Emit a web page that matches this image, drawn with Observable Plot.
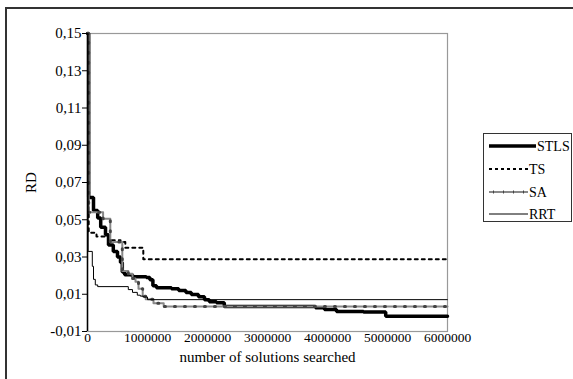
<!DOCTYPE html>
<html><head><meta charset="utf-8">
<script src="https://cdn.jsdelivr.net/npm/d3@7"></script>
<script src="https://cdn.jsdelivr.net/npm/@observablehq/plot@0.6"></script>
<style>
body{margin:0;overflow:hidden;background:#fff;font-family:"Liberation Serif","Times New Roman",serif;}
#wrap{position:relative;width:573px;height:379px;overflow:hidden;}
#frame{position:absolute;left:5px;top:7px;width:700px;height:500px;border:2px solid #333;box-sizing:border-box;}
#chart{position:absolute;left:0;top:0;}
#legend{position:absolute;left:483px;top:133px;width:89px;height:89px;border:1px solid #333;box-sizing:border-box;background:#fff;}
#legend svg{display:block;position:absolute;left:0;top:0;}
</style></head><body>
<div id="wrap"><div id="frame"></div><div id="chart"></div><div id="legend"></div></div>
<script>
const xTicks = [0, 1000000, 2000000, 3000000, 4000000, 5000000, 6000000];
const yTicks = [-0.01, 0.01, 0.03, 0.05, 0.07, 0.09, 0.11, 0.13, 0.15];
const seriesNames = ["STLS", "TS", "SA", "RRT"];

const stlsX = [0, 20000, 100000, 170000, 220000, 300000, 350000, 430000, 500000, 550000, 580000, 620000, 750000, 980000, 1040000, 1090000, 1150000, 1400000, 1520000, 1640000, 1730000, 1850000, 1950000, 2030000, 2150000, 2280000, 3800000, 3950000, 4150000, 4600000, 4970000, 6000000];
const stlsY = [0.15, 0.062, 0.055, 0.051, 0.046, 0.042, 0.0365, 0.033, 0.030, 0.027, 0.022, 0.0205, 0.0194, 0.019, 0.0178, 0.0146, 0.0135, 0.013, 0.012, 0.011, 0.0098, 0.0087, 0.007, 0.006, 0.0055, 0.0034, 0.0028, 0.0018, 0.0008, 0.0005, -0.0018, -0.0018];

const tsX = [0, 20000, 150000, 350000, 550000, 630000, 930000, 6000000];
const tsY = [0.15, 0.043, 0.041, 0.039, 0.038, 0.035, 0.0288, 0.0288];

const saX = [0, 20000, 260000, 380000, 580000, 680000, 750000, 800000, 850000, 920000, 970000, 1100000, 1270000, 6000000];
const saY = [0.15, 0.054, 0.0505, 0.038, 0.0225, 0.021, 0.0185, 0.0167, 0.013, 0.0089, 0.0073, 0.0052, 0.0034, 0.0034];

const rrtX = [0, 10000, 80000, 100000, 130000, 170000, 680000, 750000, 830000, 880000, 930000, 1000000, 6000000];
const rrtY = [0.15, 0.033, 0.025, 0.018, 0.015, 0.0141, 0.0125, 0.011, 0.0095, 0.009, 0.0085, 0.0071, 0.0071];

const toRows = (xs, ys) => xs.map((x, i) => ({x, y: ys[i]}));
const stls = toRows(stlsX, stlsY);
const ts = toRows(tsX, tsY);
const sa = toRows(saX, saY);
const rrt = toRows(rrtX, rrtY);

const fmtY = d => d.toFixed(2).replace(".", ",");
const serif = "'Liberation Serif','Times New Roman',serif";

const chart = Plot.plot({
  width: 573,
  height: 379,
  marginLeft: 87,
  marginRight: 126,
  marginTop: 33,
  marginBottom: 48,
  style: {fontFamily: serif, fontSize: "13.5px", background: "transparent", color: "#000"},
  x: {domain: [0, 6000000]},
  y: {domain: [-0.01, 0.15]},
  marks: [
    Plot.frame({stroke: "#999", strokeWidth: 1.2}),
    Plot.line(stls, {x: "x", y: "y", curve: "step-after", stroke: "#000", strokeWidth: 3.5, strokeLinejoin: "miter"}),
    Plot.line(ts, {x: "x", y: "y", curve: "step-after", stroke: "#000", strokeWidth: 2, strokeDasharray: "3 4"}),
    Plot.line(sa, {x: "x", y: "y", curve: "step-after", stroke: "#888", strokeWidth: 2}),
    Plot.line(sa, {x: "x", y: "y", curve: "step-after", stroke: "#444", strokeWidth: 3, strokeDasharray: "1 9"}),
    Plot.line(rrt, {x: "x", y: "y", curve: "step-after", stroke: "#000", strokeWidth: 1}),
    Plot.ruleX([0], {stroke: "#000", strokeWidth: 1.5}),
    Plot.axisY({ticks: yTicks, tickFormat: fmtY, tickSize: 5, tickPadding: 1, stroke: "#000", fontSize: 15, label: null}),
    Plot.axisY({ticks: [], label: "RD", labelAnchor: "center", labelArrow: "none", labelOffset: 62, fontSize: 15}),
    Plot.axisX({ticks: xTicks, tickFormat: d => String(d), tickSize: 0, tickPadding: 1, fontSize: 13.5, label: null}),
    Plot.axisX({ticks: [], label: "number of solutions searched", labelAnchor: "center", labelArrow: "none", labelOffset: 30, fontSize: 15})
  ]
});
document.getElementById("chart").appendChild(chart);

// legend
const legendStyles = {
  STLS: {stroke: "#000", width: 3.5, dash: null, len: 47},
  TS: {stroke: "#000", width: 2, dash: "3 3", len: 39},
  SA: {stroke: "#888", width: 2, dash: null, len: 39, ticks: true},
  RRT: {stroke: "#000", width: 1, dash: null, len: 39}
};
const legendCenters = [12, 35, 58, 80];
const ns = "http://www.w3.org/2000/svg";
const lsvg = document.createElementNS(ns, "svg");
lsvg.setAttribute("width", 89);
lsvg.setAttribute("height", 89);
seriesNames.forEach((name, i) => {
  const st = legendStyles[name];
  const cy = legendCenters[i];
  const x0 = 5;
  const ln = document.createElementNS(ns, "line");
  ln.setAttribute("x1", x0); ln.setAttribute("x2", x0 + st.len);
  ln.setAttribute("y1", cy); ln.setAttribute("y2", cy);
  ln.setAttribute("stroke", st.stroke);
  ln.setAttribute("stroke-width", st.width);
  if (st.dash) ln.setAttribute("stroke-dasharray", st.dash);
  lsvg.appendChild(ln);
  if (st.ticks) {
    const t = document.createElementNS(ns, "line");
    t.setAttribute("x1", x0 + 4); t.setAttribute("x2", x0 + st.len);
    t.setAttribute("y1", cy); t.setAttribute("y2", cy);
    t.setAttribute("stroke", "#444");
    t.setAttribute("stroke-width", 3);
    t.setAttribute("stroke-dasharray", "1 9");
    lsvg.appendChild(t);
  }
  const tx = document.createElementNS(ns, "text");
  tx.setAttribute("x", x0 + st.len + 1);
  tx.setAttribute("y", cy);
  tx.setAttribute("dy", "0.35em");
  tx.setAttribute("font-size", "14px");
  tx.setAttribute("font-family", serif);
  tx.textContent = name;
  lsvg.appendChild(tx);
});
document.getElementById("legend").appendChild(lsvg);
</script>
</body></html>
